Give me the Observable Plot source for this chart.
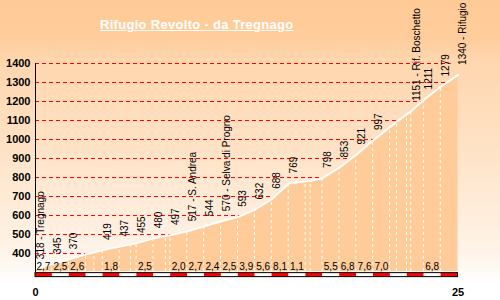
<!DOCTYPE html>
<html><head><meta charset="utf-8">
<script src="https://cdn.jsdelivr.net/npm/d3@7"></script>
<script src="https://cdn.jsdelivr.net/npm/@observablehq/plot@0.6"></script>
<style>
html,body{margin:0;padding:0;background:#fff;}
#wrap{position:relative;width:500px;height:300px;overflow:hidden;
background:linear-gradient(to bottom,#FFCA96 0px,#FFCD9C 38px,#FFD6AE 60px,#FFE4C9 160px,#FFF3E8 250px,#FFFFFF 284px);}
#wrap svg{position:absolute;left:0;top:0;}
#title{position:absolute;left:100px;top:18px;font:bold 13px "Liberation Sans",Arial,sans-serif;color:#fff;text-decoration:underline;letter-spacing:0.3px;line-height:13px;white-space:nowrap;z-index:2;}
</style></head><body>
<div id="wrap"><div id="title">Rifugio Revolto - da Tregnago</div></div>
<script>
// Profile points: distance (km) and elevation (m)
const km   = [0, 1, 2, 3, 3.5, 4, 5, 5.66, 6, 7, 7.73, 8, 9, 10, 11, 12, 13, 14, 15, 16, 16.3, 17, 18, 19, 20, 21, 21.4, 22, 22.25, 23, 24, 25];
const elev = [318, 345, 370, 396, 407, 419, 437, 449, 455, 480, 492, 497, 517, 544, 570, 593, 632, 688, 769, 780, 783, 798, 853, 921, 997, 1067, 1095, 1135, 1151, 1211, 1279, 1340];

// Elevation labels
const labelKm   = [0, 1, 2, 4, 5, 6, 7, 8, 9, 10, 11, 12, 13, 14, 15, 17, 18, 19, 20, 22.25, 23, 24, 25];
const labelElev = [318, 345, 370, 419, 437, 455, 480, 497, 517, 544, 570, 593, 632, 688, 769, 798, 853, 921, 997, 1151, 1211, 1279, 1340];
const labelText = ["318 - Tregnago", "345", "370", "419", "437", "455", "480", "497", "517 - S. Andrea", "544", "570 - Selva di Progno", "593", "632", "688", "769", "798", "853", "921", "997", "1151 - Rif. Boschetto", "1211", "1279", "1340 - Rifugio Revolto"];

// Gradient (%) labels per km
const gradKm   = [0, 1, 2, 4, 6, 8, 9, 10, 11, 12, 13, 14, 15, 17, 18, 19, 20, 23];
const gradText = ["2,7", "2,5", "2,6", "1,8", "2,5", "2,0", "2,7", "2,4", "2,5", "3,9", "5,6", "8,1", "1,1", "5,5", "6,8", "7,6", "7,0", "6,8"];

const yTicks = [400, 500, 600, 700, 800, 900, 1000, 1100, 1200, 1300, 1400];
const xTicks = [0, 25];
const totalKm = 25;

const profile = km.map((k, i) => ({km: k, elev: elev[i]}));
const labels = labelKm.map((k, i) => ({km: k, elev: labelElev[i], text: labelText[i]}));
const grads = gradKm.map((k, i) => ({km: k, text: gradText[i]}));
const segs = d3.range(totalKm).map(i => ({a: i, b: i + 1, c: i % 2 ? "#ffffff" : "#ff0000"}));

const base = 306;
const font = "'Liberation Sans', Arial, sans-serif";

const chart = Plot.plot({
  width: 500, height: 300,
  marginLeft: 35, marginRight: 42.5, marginTop: 63, marginBottom: 23,
  style: {background: "transparent", fontFamily: font, color: "#000", overflow: "visible"},
  x: {domain: [0, 25]},
  y: {domain: [274, 1400]},
  marks: [
    Plot.ruleY(yTicks, {y: d => d, x1: 0, x2: 24.6, stroke: "#ff0000", strokeDasharray: "4,3", strokeWidth: 1}),
    Plot.areaY(profile, {x: "km", y1: base, y2: "elev", fill: "#FFCC99"}),
    Plot.ruleX(profile.filter(d => d.km > 0 && d.km < 25), {x: "km", y1: base, y2: "elev", stroke: "#ffffff", strokeDasharray: "3,3", strokeWidth: 1, dx: -0.8}),
    Plot.lineY(profile, {x: "km", y: "elev", stroke: "#ffffff", strokeWidth: 2}),
    Plot.ruleX([0], {y1: 300, y2: 1400, stroke: "#000", strokeWidth: 1}),
    Plot.rect(segs, {x1: "a", x2: "b", y1: 276, y2: 297, fill: "c"}),
    Plot.rect([0], {x1: 0, x2: totalKm, y1: 276, y2: 297, fill: "none", stroke: "#000", strokeWidth: 1}),
    Plot.text(labels, {x: "km", y: "elev", text: "text", rotate: -90, textAnchor: "start", lineAnchor: "top", dx: 1, dy: -10, fontSize: 10, fill: "#000", fontFamily: font}),
    Plot.text(grads, {x: "km", text: "text", frameAnchor: "bottom", textAnchor: "start", lineAnchor: "bottom", dx: 1, dy: -7.5, fontSize: 10, fill: "#000", fontFamily: font}),
    Plot.axisY(yTicks, {tickSize: 0, tickPadding: 5, tickFormat: d => String(d), fontSize: 11, fontWeight: "bold", label: null, fill: "#000", fontFamily: font}),
    Plot.axisX(xTicks, {tickSize: 0, tickPadding: 11, tickFormat: d => String(d), fontSize: 11, fontWeight: "bold", label: null, fill: "#000", fontFamily: font})
  ]
});
document.getElementById("wrap").prepend(chart);
</script>
</body></html>
